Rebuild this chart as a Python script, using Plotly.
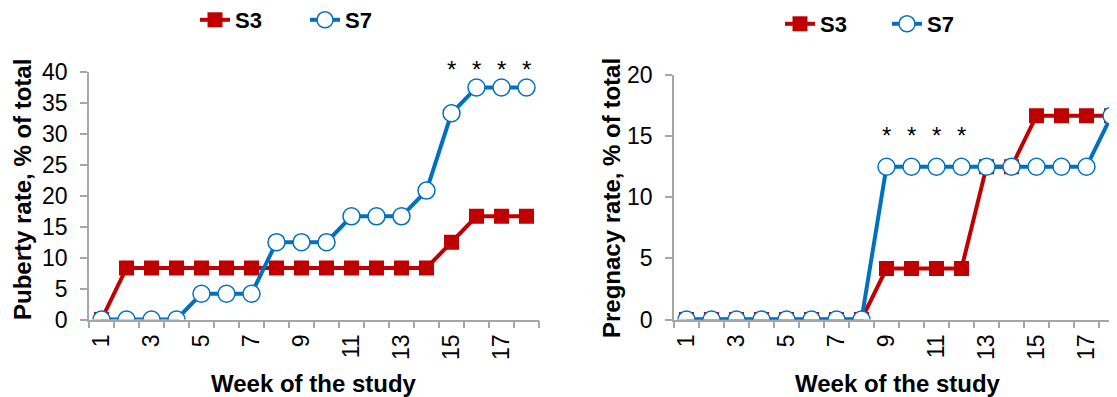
import plotly.graph_objects as go

weeks = list(range(1, 19))
puberty_s3 = [0, 8.33, 8.33, 8.33, 8.33, 8.33, 8.33, 8.33, 8.33, 8.33, 8.33, 8.33, 8.33, 8.33, 12.5, 16.67, 16.67, 16.67]
puberty_s7 = [0, 0, 0, 0, 4.17, 4.17, 4.17, 12.5, 12.5, 12.5, 16.67, 16.67, 16.67, 20.83, 33.33, 37.5, 37.5, 37.5]
pregnancy_s3 = [0, 0, 0, 0, 0, 0, 0, 0, 4.17, 4.17, 4.17, 4.17, 12.5, 12.5, 16.67, 16.67, 16.67, 16.67]
pregnancy_s7 = [0, 0, 0, 0, 0, 0, 0, 0, 12.5, 12.5, 12.5, 12.5, 12.5, 12.5, 12.5, 12.5, 12.5, 16.67]
tick_weeks = [1, 3, 5, 7, 9, 11, 13, 15, 17]
puberty_star_weeks = [15, 16, 17, 18]
pregnancy_star_weeks = [9, 10, 11, 12]

RED = "#C00000"
BLUE = "#0070C0"
GRAY = "#A6A6A6"
FONT = "Liberation Sans, Arial, sans-serif"

# page has an 8px body margin; figure is sized so it fits the 1117x397 window
OFF = 8
W, H = 1117 - OFF, 397 - OFF

def px(x):
    return (x - OFF) / W

def py(y):
    return 1 - (y - OFF) / H

fig = go.Figure()

def add_pair(s3, s7, xa, ya, legend):
    fig.add_trace(go.Scatter(x=weeks, y=s3, name="S3", mode="lines+markers",
                             line=dict(color=RED, width=4),
                             marker=dict(symbol="square", size=15, color=RED),
                             xaxis=xa, yaxis=ya, legend=legend))
    fig.add_trace(go.Scatter(x=weeks, y=s7, name="S7", mode="lines+markers",
                             line=dict(color=BLUE, width=4),
                             marker=dict(symbol="circle", size=17, color="white",
                                         line=dict(color=BLUE, width=1.5)),
                             xaxis=xa, yaxis=ya, legend=legend))

add_pair(puberty_s3, puberty_s7, "x", "y", "legend")
add_pair(pregnancy_s3, pregnancy_s7, "x2", "y2", "legend2")

TICKFONT = dict(family=FONT, size=23, color="black")

def xaxis_cfg(domain, rng, anchor):
    return dict(domain=domain, range=rng, showgrid=False, zeroline=False, anchor=anchor,
                showline=True, linecolor=GRAY, linewidth=1.5,
                tickmode="array", tickvals=tick_weeks, ticktext=[str(t) for t in tick_weeks],
                ticks="", tickangle=-90, tickfont=TICKFONT, ticklabelstandoff=4,
                minor=dict(tickmode="linear", tick0=0.5, dtick=1, ticks="outside",
                           ticklen=7, tickcolor=GRAY, tickwidth=1.5, showgrid=False),
                automargin=False)

def yaxis_cfg(domain, rng, dtick, anchor):
    return dict(domain=domain, range=rng, dtick=dtick, showgrid=False, zeroline=False,
                showline=True, linecolor=GRAY, linewidth=1.5, ticks="outside",
                ticklen=7, tickcolor=GRAY, tickwidth=1.5, ticklabelstandoff=8,
                tickfont=TICKFONT, anchor=anchor, automargin=False)

LEGFONT = dict(family=FONT, size=22, color="black", weight="bold")

fig.update_layout(
    width=W, height=H,
    margin=dict(l=0, r=0, t=0, b=0, autoexpand=False),
    paper_bgcolor="white", plot_bgcolor="white",
    font=dict(family=FONT, color="black"),
    xaxis=xaxis_cfg([px(89), px(539)], [0.5, 18.5], "y"),
    yaxis=yaxis_cfg([py(319.5), py(72)], [0, 40], 5, "x"),
    xaxis2=xaxis_cfg([px(674), 1.0], [0.5, 18.22], "y2"),
    yaxis2=yaxis_cfg([py(319.5), py(75)], [0, 20], 5, "x2"),
    legend=dict(orientation="h", x=px(195), y=py(20), xanchor="left", yanchor="middle",
                font=LEGFONT, entrywidth=65, entrywidthmode="pixels",
                bgcolor="rgba(0,0,0,0)", tracegroupgap=0),
    legend2=dict(orientation="h", x=px(780), y=py(24), xanchor="left", yanchor="middle",
                 font=LEGFONT, entrywidth=62, entrywidthmode="pixels",
                 bgcolor="rgba(0,0,0,0)", tracegroupgap=0),
)

STARFONT = dict(family=FONT, size=24, color="black")
annotations = []
for w in puberty_star_weeks:
    annotations.append(dict(x=w, y=40, xref="x", yref="y", text="*", showarrow=False,
                            yanchor="middle", yshift=2, font=STARFONT))
for w in pregnancy_star_weeks:
    annotations.append(dict(x=w, y=15, xref="x2", yref="y2", text="*", showarrow=False,
                            yanchor="middle", yshift=1, font=STARFONT))

title_font = dict(family=FONT, size=24, color="black", weight="bold")
annotations += [
    dict(x=px(23), y=py(190), xref="paper", yref="paper", text="Puberty rate, % of total",
         textangle=-90, showarrow=False, font=title_font, xanchor="center", yanchor="middle"),
    dict(x=px(612), y=py(198), xref="paper", yref="paper", text="Pregnacy rate, % of total",
         textangle=-90, showarrow=False, font=title_font, xanchor="center", yanchor="middle"),
    dict(x=px(314), y=py(383), xref="paper", yref="paper", text="Week of the study",
         showarrow=False, font=title_font, xanchor="center", yanchor="middle"),
    dict(x=px(898), y=py(383), xref="paper", yref="paper", text="Week of the study",
         showarrow=False, font=title_font, xanchor="center", yanchor="middle"),
]
fig.update_layout(annotations=annotations)

fig.write_html("out.html")
